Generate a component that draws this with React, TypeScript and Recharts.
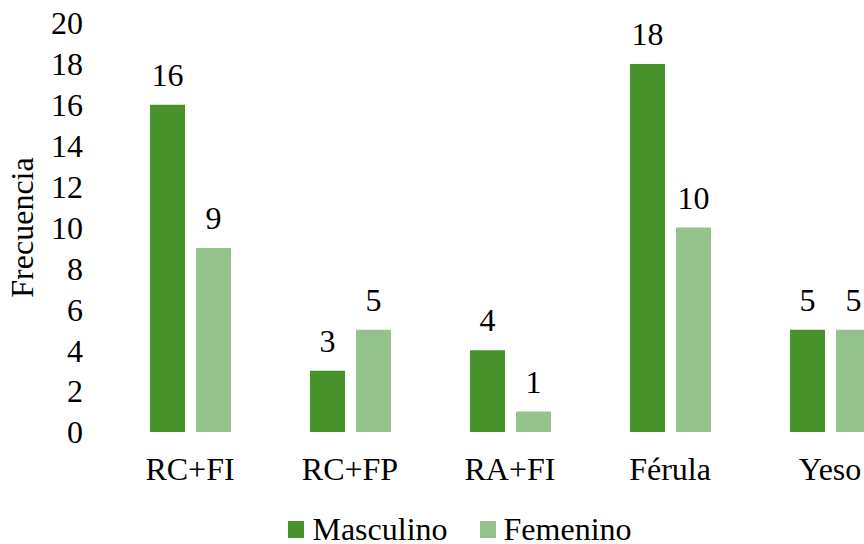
import React from 'react';
import { BarChart, Bar, XAxis, YAxis, LabelList } from 'recharts';

// Datos
const categorias = ['RC+FI', 'RC+FP', 'RA+FI', 'Férula', 'Yeso'];
const masculino = [16, 3, 4, 18, 5];
const femenino = [9, 5, 1, 10, 5];
const ticksY = [0, 2, 4, 6, 8, 10, 12, 14, 16, 18, 20];

const series = [
  { key: 'masculino', nombre: 'Masculino', color: '#48932b' },
  { key: 'femenino', nombre: 'Femenino', color: '#93c28a' },
];

const data = categorias.map((name, i) => ({
  name,
  masculino: masculino[i],
  femenino: femenino[i],
}));

const FONT = '"Liberation Serif", "Times New Roman", serif';
const FS = 32;
const textStyle = { fill: '#000', fontSize: FS, fontFamily: FONT };

export default function App() {
  return (
    <div
      style={{
        position: 'absolute',
        left: 0,
        top: 0,
        width: 864,
        height: 544,
        overflow: 'hidden',
        background: '#fff',
        fontFamily: FONT,
      }}
    >
      <BarChart
        width={920}
        height={544}
        data={data}
        margin={{ top: 23, right: 10, left: 0, bottom: 0 }}
        barSize={35}
        barGap={11}
      >
        <XAxis
          dataKey="name"
          height={112}
          axisLine={false}
          tickLine={false}
          tickSize={0}
          tickMargin={25}
          interval={0}
          tick={textStyle}
        />
        <YAxis
          width={110}
          domain={[0, 20]}
          ticks={ticksY}
          axisLine={false}
          tickLine={false}
          tickSize={0}
          tickMargin={27}
          interval={0}
          tick={textStyle}
          label={{
            value: 'Frecuencia',
            angle: -90,
            position: 'center',
            dx: -33,
            style: textStyle,
          }}
        />
        {series.map((s) => (
          <Bar key={s.key} dataKey={s.key} name={s.nombre} fill={s.color} isAnimationActive={false}>
            <LabelList dataKey={s.key} position="top" offset={19} style={textStyle} />
          </Bar>
        ))}
      </BarChart>
      {/* leyenda inferior, centrada sobre el ancho completo del gráfico */}
      <div
        style={{
          position: 'absolute',
          left: 0,
          top: 515,
          width: 920,
          height: 28,
          display: 'flex',
          justifyContent: 'center',
          alignItems: 'center',
          gap: 32,
          fontSize: FS,
          lineHeight: '28px',
          color: '#000',
        }}
      >
        {series.map((s) => (
          <div key={s.key} style={{ display: 'flex', alignItems: 'center', height: 28 }}>
            <span style={{ width: 16, height: 17, background: s.color, marginRight: 8, display: 'inline-block' }} />
            <span style={{ whiteSpace: 'nowrap' }}>{s.nombre}</span>
          </div>
        ))}
      </div>
    </div>
  );
}
